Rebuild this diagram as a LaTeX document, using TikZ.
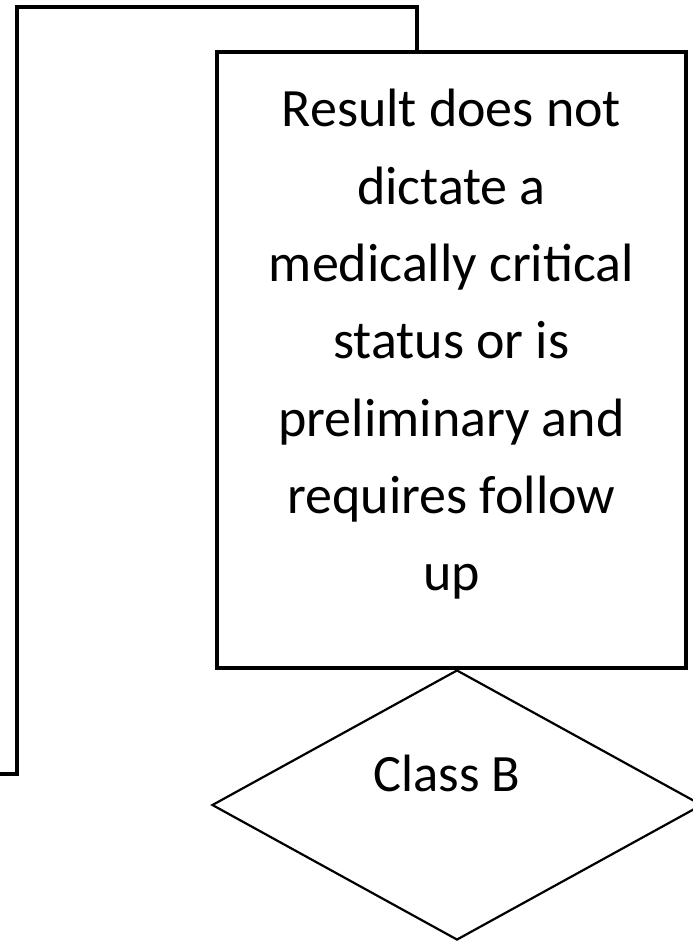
\documentclass[tikz,border=0pt]{standalone}
\usepackage{fontspec}
\setmainfont{Carlito}
\usetikzlibrary{shapes.geometric}
\begin{document}
\begin{tikzpicture}[x=1pt,y=-1pt,
  boxstyle/.style={draw,line width=4pt,rectangle,minimum width=469pt,minimum height=616pt,
    inner sep=0pt,align=center,font=\fontsize{54}{77.3}\selectfont},
  decstyle/.style={draw,line width=2.2pt,diamond,minimum width=490pt,minimum height=270pt,inner sep=0pt},
  linkstyle/.style={line width=4pt}]
\useasboundingbox (0,0) rectangle (693,943);
\node[boxstyle] (box) at (451.5,360) {Result does not\\dictate a\\medically critical\\status or is\\preliminary and\\requires follow\\up\rule[-40pt]{0pt}{40pt}};
\node[decstyle,label={[xshift=-10pt,yshift=32pt,font=\fontsize{52.5}{60}\selectfont]center:Class B}] (dec) at (457,805) {};
\coordinate (turn) at (417,7);
\coordinate (loose) at (0,774);
\draw[linkstyle] (box.north -| turn) -- (turn) -- (17,7) -- (17,774) -- (loose);
\end{tikzpicture}
\end{document}
